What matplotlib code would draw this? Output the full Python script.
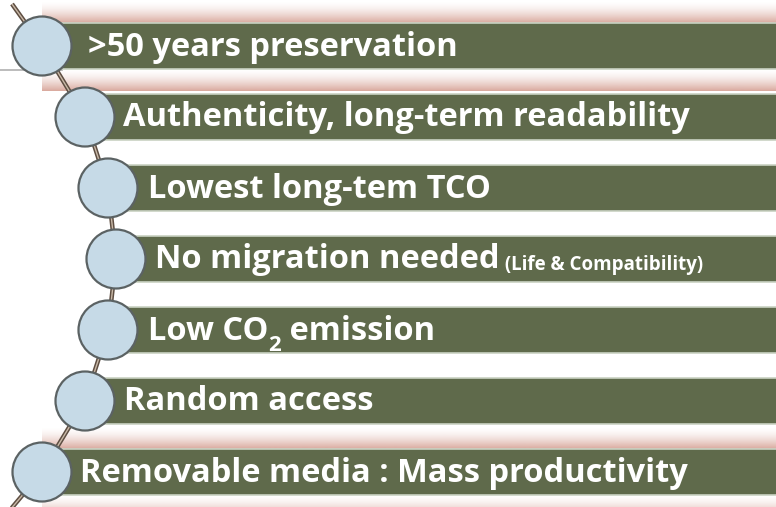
import matplotlib
matplotlib.use("Agg")
import matplotlib.pyplot as plt
import numpy as np
from matplotlib.patches import Rectangle, Circle

# ---- content ----
labels = [">50 years preservation",
          "Authenticity, long-term readability",
          "Lowest long-tem TCO",
          "No migration needed",
          "Low CO",
          "Random access",
          "Removable media : Mass productivity"]
small_note = "(Life & Compatibility)"
co2_sub = "2"
co2_rest = " emission"
glow_rows = [0, 6]

# ---- layout (pixels) ----
W, H = 776, 507
row_y = [46, 117, 188, 259, 330, 401, 472]
circ_x = [42, 85, 108, 116, 108, 85, 42]
text_x = [88, 123, 148, 155, 148, 124, 80]
bar_h = 46
r = 29.5

BAR = "#5f6a4b"
CIRC = "#c6dae7"
CEDGE = "#5b6263"

fig = plt.figure(figsize=(W / 100, H / 100), dpi=100)
ax = fig.add_axes([0, 0, 1, 1])
ax.set_xlim(0, W)
ax.set_ylim(H, 0)
ax.axis("off")

# pink glow around selected bars
for i in glow_rows:
    y0 = row_y[i] - bar_h / 2
    y1 = row_y[i] + bar_h / 2
    g = 22
    n = 50
    t = np.linspace(0, 1, n)
    alpha = (1 - t) ** 1.6 * 0.75
    col = np.array([205, 140, 125]) / 255
    img = np.zeros((n, 1, 4))
    img[:, 0, :3] = col
    img[:, 0, 3] = alpha
    ax.imshow(img[::-1], extent=(circ_x[i], W, y0, y0 - g), aspect="auto",
              origin="upper", zorder=1, interpolation="bilinear")
    ax.imshow(img, extent=(circ_x[i], W, y1 + g, y1), aspect="auto",
              origin="lower", zorder=1, interpolation="bilinear")

# thin grey rule at left
ax.plot([0, 62], [70, 70], color="#b0b0b0", lw=1.2, zorder=2)

# chain connecting the circles
cx = [12] + circ_x + [10]
cy = [4] + row_y + [510]
ax.plot(cx, cy, color="#5e4e42", lw=3.2, zorder=3, solid_capstyle="butt")
ax.plot(cx, cy, color="#c9b9a8", lw=1.0, zorder=3.1, solid_capstyle="butt")

# bars
for i, y in enumerate(row_y):
    ax.add_patch(Rectangle((circ_x[i], y - bar_h / 2), W - circ_x[i] + 5, bar_h,
                           facecolor=BAR, edgecolor="#c9d2c2", lw=1.2, zorder=4))
    ax.add_patch(Circle((circ_x[i], y), r, facecolor=CIRC, edgecolor=CEDGE,
                        lw=1.6, zorder=5))

FONT = "Open Sans"
renderer = fig.canvas.get_renderer()


def fit_size(s, target_px, fs0=20.0):
    t = ax.text(0, 0, s, fontsize=fs0, fontweight="bold", family=FONT)
    w = t.get_window_extent(renderer).width
    t.remove()
    return fs0 * target_px / w


fs = fit_size(labels[0], 370)
fs_small = fit_size(" " + small_note, 203)

texts = []
for i, (lab, y) in enumerate(zip(labels, row_y)):
    t = ax.text(text_x[i], y + 1, lab, color="white", fontsize=fs,
                fontweight="bold", family=FONT, va="center", ha="left", zorder=6)
    texts.append(t)

# small note after "No migration needed"
ax.annotate(" " + small_note, xy=(1, 0.21), xycoords=texts[3], color="white",
            fontsize=fs_small, fontweight="bold", family=FONT, va="baseline",
            ha="left", zorder=6)

# CO2 subscript
sub = ax.annotate(co2_sub, xy=(1, 0.05), xycoords=texts[4], color="white",
                  fontsize=fs * 0.68, fontweight="bold", family=FONT,
                  va="center", ha="left", zorder=6)
ax.annotate(co2_rest, xy=(1, 0.5), xycoords=(sub, texts[4]), color="white",
            fontsize=fs, fontweight="bold", family=FONT, va="center",
            ha="left", zorder=6)

fig.savefig("out.png", dpi=100, facecolor="white")
